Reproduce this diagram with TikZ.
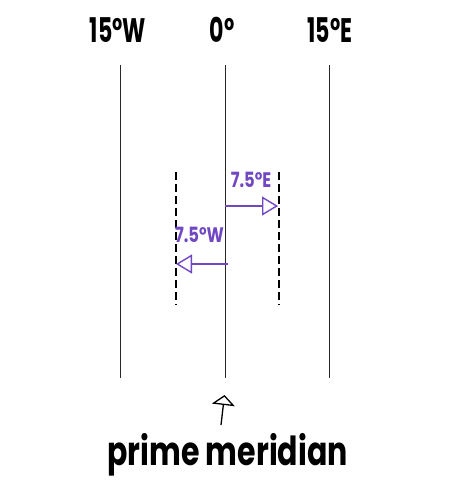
\documentclass[tikz,border=0pt]{standalone}
\usepackage{fontspec}
\setmainfont{Poppins}
\newfontfamily\narrowhand[FakeStretch=0.65]{Poppins}
\newfontfamily\widehand[FakeStretch=0.78]{Poppins}
\newfontfamily\titlehand[FakeStretch=0.75]{Poppins}
\usetikzlibrary{arrows.meta,positioning}
\definecolor{ShiftPurple}{RGB}{112,72,196}
\definecolor{LineGray}{RGB}{40,40,40}
\tikzset{
  deg/.style={font=\narrowhand\bfseries\fontsize{34}{36}\selectfont,anchor=base,inner sep=0pt},
  half/.style={font=\widehand\bfseries\fontsize{21}{24}\selectfont,text=ShiftPurple,anchor=base,inner sep=0pt},
  shiftarrow/.style={ShiftPurple,line width=1.4pt,-{Triangle[open,length=16pt,width=19pt]}}
}
\begin{document}
\begin{tikzpicture}[x=1pt,y=-1pt]
  \useasboundingbox (0,0) rectangle (453,491);
  % meridians
  \foreach \n/\x/\lx/\t in {w/120/118/15\textdegree W,m/225/222/0\textdegree,e/329/330/15\textdegree E}{
    \coordinate (\n top) at (\x,65);
    \coordinate (\n bot) at (\x,378);
    \draw[LineGray] (\n top) -- (\n bot);
    \node[deg] (\n lab) at (\lx,42) {\t};
  }
  % half-zone borders
  \foreach \n/\x in {hw/176,he/279}{
    \coordinate (\n top) at (\x,172);
    \coordinate (\n bot) at (\x,305);
    \draw[line width=1.6pt,dash pattern=on 8pt off 4pt] (\n top) -- (\n bot);
  }
  \coordinate (eas) at (225,206);
  \coordinate (eae) at (278,206);
  \coordinate (was) at (228,264);
  \coordinate (wae) at (176,264);
  \draw[shiftarrow] (eas) -- (eae);
  \draw[shiftarrow] (was) -- (wae);
  \node[half] (elab) at (251,187) {7.5\textdegree E};
  \node[half] (wlab) at (199.5,242) {7.5\textdegree W};
  % label for 0
  \node[font=\titlehand\bfseries\fontsize{40}{44}\selectfont,anchor=base,inner sep=0pt] (pm) at (227.5,465) {prime meridian};
  \coordinate (pmtip) at (224.5,395);
  \coordinate (pmfoot) at (221,425);
  \draw[line width=1.3pt,-{Triangle[open,length=10pt,width=23pt]}] (pmfoot) -- (pmtip);
\end{tikzpicture}
\end{document}
